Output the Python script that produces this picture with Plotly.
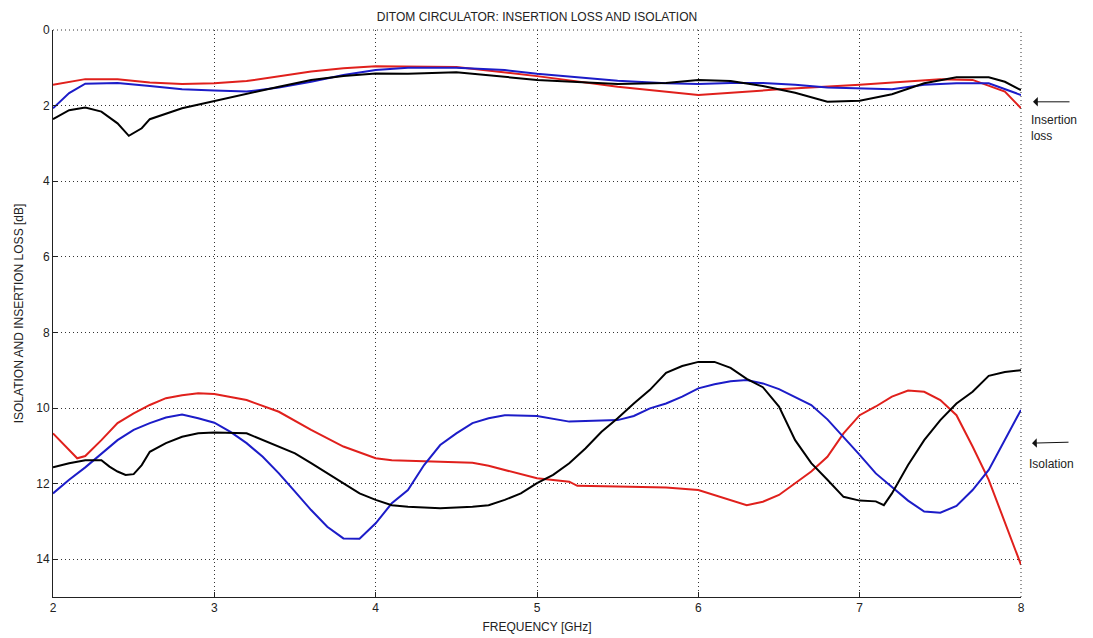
import plotly.graph_objects as go

# ---------------- data ----------------
il_red_x = [2.0, 2.2, 2.4, 2.6, 2.8, 3.0, 3.2, 3.4, 3.6, 3.8, 4.0, 4.5, 5.0, 5.5, 6.0, 6.5, 7.0, 7.5, 7.7, 7.9, 8.0]
il_red_y = [1.45, 1.3, 1.3, 1.39, 1.43, 1.41, 1.35, 1.22, 1.1, 1.01, 0.96, 0.98, 1.22, 1.5, 1.72, 1.57, 1.45, 1.3, 1.32, 1.63, 2.07]

il_blue_x = [2.0, 2.1, 2.2, 2.4, 2.6, 2.8, 3.0, 3.2, 3.4, 3.6, 3.8, 4.0, 4.2, 4.5, 4.8, 5.0, 5.5, 5.8, 6.0, 6.2, 6.4, 6.6, 6.8, 7.0, 7.2, 7.4, 7.6, 7.8, 8.0]
il_blue_y = [2.07, 1.67, 1.42, 1.4, 1.48, 1.57, 1.6, 1.63, 1.52, 1.37, 1.19, 1.06, 1.0, 1.0, 1.06, 1.16, 1.34, 1.41, 1.43, 1.4, 1.4, 1.45, 1.52, 1.55, 1.57, 1.45, 1.41, 1.41, 1.72]

il_black_x = [2.0, 2.1, 2.2, 2.3, 2.4, 2.47, 2.55, 2.6, 2.8, 3.0, 3.2, 3.4, 3.6, 3.8, 4.0, 4.2, 4.5, 4.8, 5.0, 5.5, 5.8, 6.0, 6.2, 6.4, 6.6, 6.8, 7.0, 7.2, 7.4, 7.6, 7.8, 7.9, 8.0]
il_black_y = [2.36, 2.12, 2.05, 2.16, 2.47, 2.8, 2.6, 2.36, 2.07, 1.88, 1.68, 1.5, 1.32, 1.22, 1.15, 1.16, 1.12, 1.23, 1.32, 1.43, 1.4, 1.32, 1.35, 1.48, 1.66, 1.9, 1.87, 1.7, 1.41, 1.25, 1.25, 1.37, 1.59]

iso_red_x = [2.0, 2.1, 2.15, 2.2, 2.3, 2.4, 2.5, 2.6, 2.7, 2.8, 2.9, 3.0, 3.2, 3.4, 3.6, 3.8, 4.0, 4.1, 4.4, 4.6, 4.7, 4.8, 4.9, 5.0, 5.2, 5.25, 5.5, 5.8, 6.0, 6.2, 6.3, 6.4, 6.5, 6.6, 6.7, 6.8, 6.9, 7.0, 7.1, 7.2, 7.3, 7.4, 7.5, 7.6, 7.7, 7.8, 7.9, 8.0]
iso_red_y = [10.67, 11.11, 11.33, 11.27, 10.85, 10.4, 10.14, 9.92, 9.74, 9.66, 9.61, 9.63, 9.79, 10.1, 10.58, 11.02, 11.33, 11.38, 11.42, 11.45, 11.53, 11.64, 11.77, 11.86, 11.95, 12.06, 12.08, 12.1, 12.17, 12.43, 12.57, 12.48, 12.3, 11.99, 11.68, 11.29, 10.67, 10.19, 9.96, 9.7, 9.54, 9.57, 9.79, 10.19, 11.02, 11.9, 13.05, 14.15]

iso_blue_x = [2.0, 2.1, 2.2, 2.3, 2.4, 2.5, 2.6, 2.7, 2.8, 2.9, 3.0, 3.1, 3.2, 3.3, 3.4, 3.5, 3.6, 3.7, 3.8, 3.9, 4.0, 4.1, 4.2, 4.3, 4.4, 4.5, 4.6, 4.7, 4.8, 5.0, 5.2, 5.5, 5.6, 5.7, 5.8, 5.9, 6.0, 6.1, 6.2, 6.3, 6.4, 6.5, 6.6, 6.7, 6.8, 6.9, 7.0, 7.1, 7.2, 7.3, 7.4, 7.5, 7.6, 7.7, 7.8, 7.9, 8.0]
iso_blue_y = [12.26, 11.9, 11.57, 11.2, 10.85, 10.58, 10.4, 10.25, 10.17, 10.27, 10.39, 10.63, 10.93, 11.29, 11.73, 12.21, 12.7, 13.14, 13.45, 13.46, 13.05, 12.52, 12.17, 11.51, 10.98, 10.67, 10.4, 10.27, 10.19, 10.21, 10.36, 10.32, 10.21, 10.01, 9.88, 9.7, 9.48, 9.37, 9.29, 9.26, 9.35, 9.5, 9.7, 9.92, 10.3, 10.76, 11.24, 11.73, 12.08, 12.45, 12.74, 12.77, 12.59, 12.17, 11.64, 10.85, 10.05]

iso_black_x = [2.0, 2.1, 2.2, 2.3, 2.35, 2.4, 2.45, 2.5, 2.55, 2.6, 2.7, 2.8, 2.9, 3.0, 3.2, 3.3, 3.4, 3.5, 3.6, 3.7, 3.8, 3.9, 4.0, 4.1, 4.2, 4.4, 4.6, 4.7, 4.8, 4.9, 5.0, 5.1, 5.2, 5.3, 5.4, 5.5, 5.6, 5.7, 5.8, 5.9, 6.0, 6.1, 6.2, 6.3, 6.4, 6.5, 6.6, 6.7, 6.8, 6.9, 7.0, 7.1, 7.15, 7.2, 7.3, 7.4, 7.5, 7.6, 7.7, 7.8, 7.9, 8.0]
iso_black_y = [11.57, 11.46, 11.38, 11.38, 11.55, 11.68, 11.77, 11.75, 11.51, 11.16, 10.93, 10.76, 10.67, 10.65, 10.67, 10.85, 11.02, 11.2, 11.46, 11.73, 11.99, 12.26, 12.43, 12.57, 12.61, 12.65, 12.61, 12.57, 12.43, 12.26, 11.99, 11.77, 11.46, 11.07, 10.63, 10.27, 9.88, 9.52, 9.07, 8.89, 8.78, 8.78, 8.94, 9.23, 9.45, 9.96, 10.85, 11.46, 11.9, 12.35, 12.45, 12.47, 12.57, 12.26, 11.51, 10.85, 10.32, 9.88, 9.57, 9.15, 9.05, 9.0]

x_ticks = [2, 3, 4, 5, 6, 7, 8]
y_ticks = [0, 2, 4, 6, 8, 10, 12, 14]

RED = "#e0201c"
BLUE = "#1c1cc8"
BLACK = "#000000"

fig = go.Figure()
series = [
    (il_red_x, il_red_y, RED), (il_blue_x, il_blue_y, BLUE), (il_black_x, il_black_y, BLACK),
    (iso_red_x, iso_red_y, RED), (iso_blue_x, iso_blue_y, BLUE), (iso_black_x, iso_black_y, BLACK),
]
for xs, ys, c in series:
    fig.add_trace(go.Scatter(x=xs, y=ys, mode="lines", line=dict(color=c, width=2), showlegend=False,
                             hoverinfo="skip"))

font = "Liberation Sans, Arial, sans-serif"
GRID_DASH = "1px,3px"
fig.update_layout(
    width=1093, height=638,
    margin=dict(l=45, r=80, t=22, b=49),
    paper_bgcolor="white", plot_bgcolor="white",
    font=dict(family=font, size=12, color="#222"),
    title=dict(text="DITOM CIRCULATOR: INSERTION LOSS AND ISOLATION", x=0.5, xref="paper",
               y=0.986, yanchor="middle", font=dict(size=12, family=font, color="#222")),
    xaxis=dict(range=[2, 8], tickvals=x_ticks, ticks="inside", ticklen=5, tickcolor="#222",
               showline=True, linecolor="#222", linewidth=1, mirror=False, automargin=False,
               showgrid=True, gridcolor="#333", griddash=GRID_DASH, gridwidth=1, zeroline=False,
               title=dict(text="FREQUENCY [GHz]", standoff=8, font=dict(size=12))),
    yaxis=dict(range=[15, 0], tickvals=y_ticks, ticks="inside", ticklen=5, tickcolor="#222",
               showline=True, linecolor="#222", linewidth=1, mirror=False, automargin=False,
               showgrid=True, gridcolor="#333", griddash=GRID_DASH, gridwidth=1, zeroline=False,
               title=dict(text="ISOLATION AND INSERTION LOSS [dB]", standoff=10, font=dict(size=12))),
)

# dotted top/right border (grid at edges)
fig.add_shape(type="line", xref="paper", yref="paper", x0=0, x1=1, y0=1, y1=1,
              line=dict(color="#333", width=1, dash=GRID_DASH))
fig.add_shape(type="line", xref="paper", yref="paper", x0=1, x1=1, y0=0, y1=1,
              line=dict(color="#333", width=1, dash=GRID_DASH))

# arrows and labels on the right
fig.add_annotation(x=1.0, y=1.9, xref="paper", yref="y", ax=38, ay=0,
                   showarrow=True, arrowhead=1, arrowsize=1.6, arrowwidth=1, arrowcolor="#111",
                   text="", xshift=12)
fig.add_annotation(x=1.0, y=2.15, xref="paper", yref="y", text="Insertion<br>loss", showarrow=False,
                   xanchor="left", yanchor="top", align="left", xshift=8, font=dict(size=12, color="#222"))
fig.add_annotation(x=1.0, y=10.93, xref="paper", yref="y", ax=38, ay=-1,
                   showarrow=True, arrowhead=1, arrowsize=1.6, arrowwidth=1, arrowcolor="#111",
                   text="", xshift=11)
fig.add_annotation(x=1.0, y=11.25, xref="paper", yref="y", text="Isolation", showarrow=False,
                   xanchor="left", yanchor="top", align="left", xshift=6, font=dict(size=12, color="#222"))

fig.write_html("out.html")
